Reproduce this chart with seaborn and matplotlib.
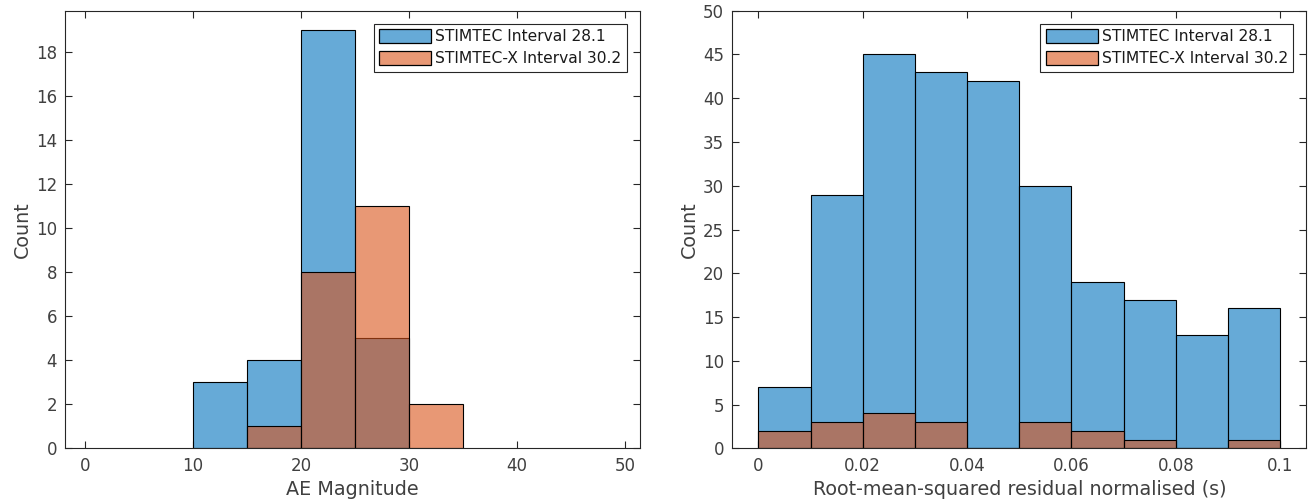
import numpy as np
import pandas as pd
import matplotlib
matplotlib.use("Agg")
import matplotlib.pyplot as plt
import seaborn as sns
from matplotlib.colors import to_rgba
from matplotlib.patches import Patch

# ---- data ----
series_names = ["STIMTEC Interval 28.1", "STIMTEC-X Interval 30.2"]

mag_edges_a = [10, 15, 20, 25, 30]
mag_counts_a = [3, 4, 19, 5]
mag_edges_b = [15, 20, 25, 30, 35]
mag_counts_b = [1, 8, 11, 2]

rms_edges = [0.0, 0.01, 0.02, 0.03, 0.04, 0.05, 0.06, 0.07, 0.08, 0.09, 0.1]
rms_counts_a = [7, 29, 45, 43, 42, 30, 19, 17, 13, 16]
rms_counts_b = [2, 3, 4, 3, 0, 3, 2, 1, 0, 1]

left_xticks = [0, 10, 20, 30, 40, 50]
left_yticks = [0, 2, 4, 6, 8, 10, 12, 14, 16, 18]
right_xticks = [0, 0.02, 0.04, 0.06, 0.08, 0.1]
right_xticklabels = ["0", "0.02", "0.04", "0.06", "0.08", "0.1"]
right_yticks = [0, 5, 10, 15, 20, 25, 30, 35, 40, 45, 50]

blue = "#0072BD"
orange = "#D95319"
ALPHA = 0.6
axcol = "#262626"
ticklab = "#404040"

sns.set_theme(style="white")
plt.rcParams["font.family"] = ["DejaVu Sans"]

fig = plt.figure(figsize=(13.12, 5.03), dpi=100)
ax1 = fig.add_axes([0.0498, 0.1087, 0.438, 0.870])
ax2 = fig.add_axes([0.5582, 0.1087, 0.4375, 0.870])


def draw_hist(ax, edges, counts, color):
    e = np.asarray(edges, dtype=float)
    centers = (e[:-1] + e[1:]) / 2
    df = pd.DataFrame({"x": centers, "w": np.asarray(counts, dtype=float)})
    n0 = len(ax.patches)
    sns.histplot(data=df, x="x", weights="w", bins=[float(v) for v in edges],
                 ax=ax, stat="count", element="bars", fill=True)
    for p in ax.patches[n0:]:
        p.set_alpha(None)
        p.set_facecolor(to_rgba(color, ALPHA))
        p.set_edgecolor("black")
        p.set_linewidth(0.8)


draw_hist(ax1, mag_edges_a, mag_counts_a, blue)
draw_hist(ax1, mag_edges_b, mag_counts_b, orange)
draw_hist(ax2, rms_edges, rms_counts_a, blue)
draw_hist(ax2, rms_edges, rms_counts_b, orange)

ax1.set_xlim(-1.82, 51.39)
ax1.set_ylim(0, 19.87)
ax1.set_xticks(left_xticks)
ax1.set_yticks(left_yticks)
ax1.set_xlabel("AE Magnitude")
ax1.set_ylabel("Count")

ax2.set_xlim(-0.00498, 0.1050)
ax2.set_ylim(0, 50)
ax2.set_xticks(right_xticks)
ax2.set_xticklabels(right_xticklabels)
ax2.set_yticks(right_yticks)
ax2.set_xlabel("Root-mean-squared residual normalised (s)")
ax2.set_ylabel("Count")

handles = [Patch(facecolor=to_rgba(blue, ALPHA), edgecolor="black", linewidth=0.9),
           Patch(facecolor=to_rgba(orange, ALPHA), edgecolor="black", linewidth=0.9)]

for ax in (ax1, ax2):
    for s in ax.spines.values():
        s.set_visible(True)
        s.set_color(axcol)
        s.set_linewidth(0.8)
    ax.tick_params(direction="in", length=5, width=0.8, colors=axcol,
                   labelsize=12, top=True, right=True, bottom=True, left=True,
                   labelcolor=ticklab, pad=6)
    ax.xaxis.label.set_size(13.8)
    ax.yaxis.label.set_size(13.8)
    ax.xaxis.label.set_color(ticklab)
    ax.yaxis.label.set_color(ticklab)
    ax.grid(False)
    leg = ax.legend(handles, series_names, loc="upper right", fontsize=11.2,
                    fancybox=False, framealpha=1, edgecolor=axcol,
                    handlelength=3.35, handleheight=0.92, borderpad=0.35,
                    labelspacing=0.45, handletextpad=0.25, borderaxespad=0.85)
    leg.get_frame().set_linewidth(0.8)
    for t in leg.get_texts():
        t.set_color("#1a1a1a")

ax1.yaxis.labelpad = 3
ax2.yaxis.labelpad = 3
ax1.xaxis.labelpad = 4
ax2.xaxis.labelpad = 4
fig.savefig("out.png", dpi=100)
